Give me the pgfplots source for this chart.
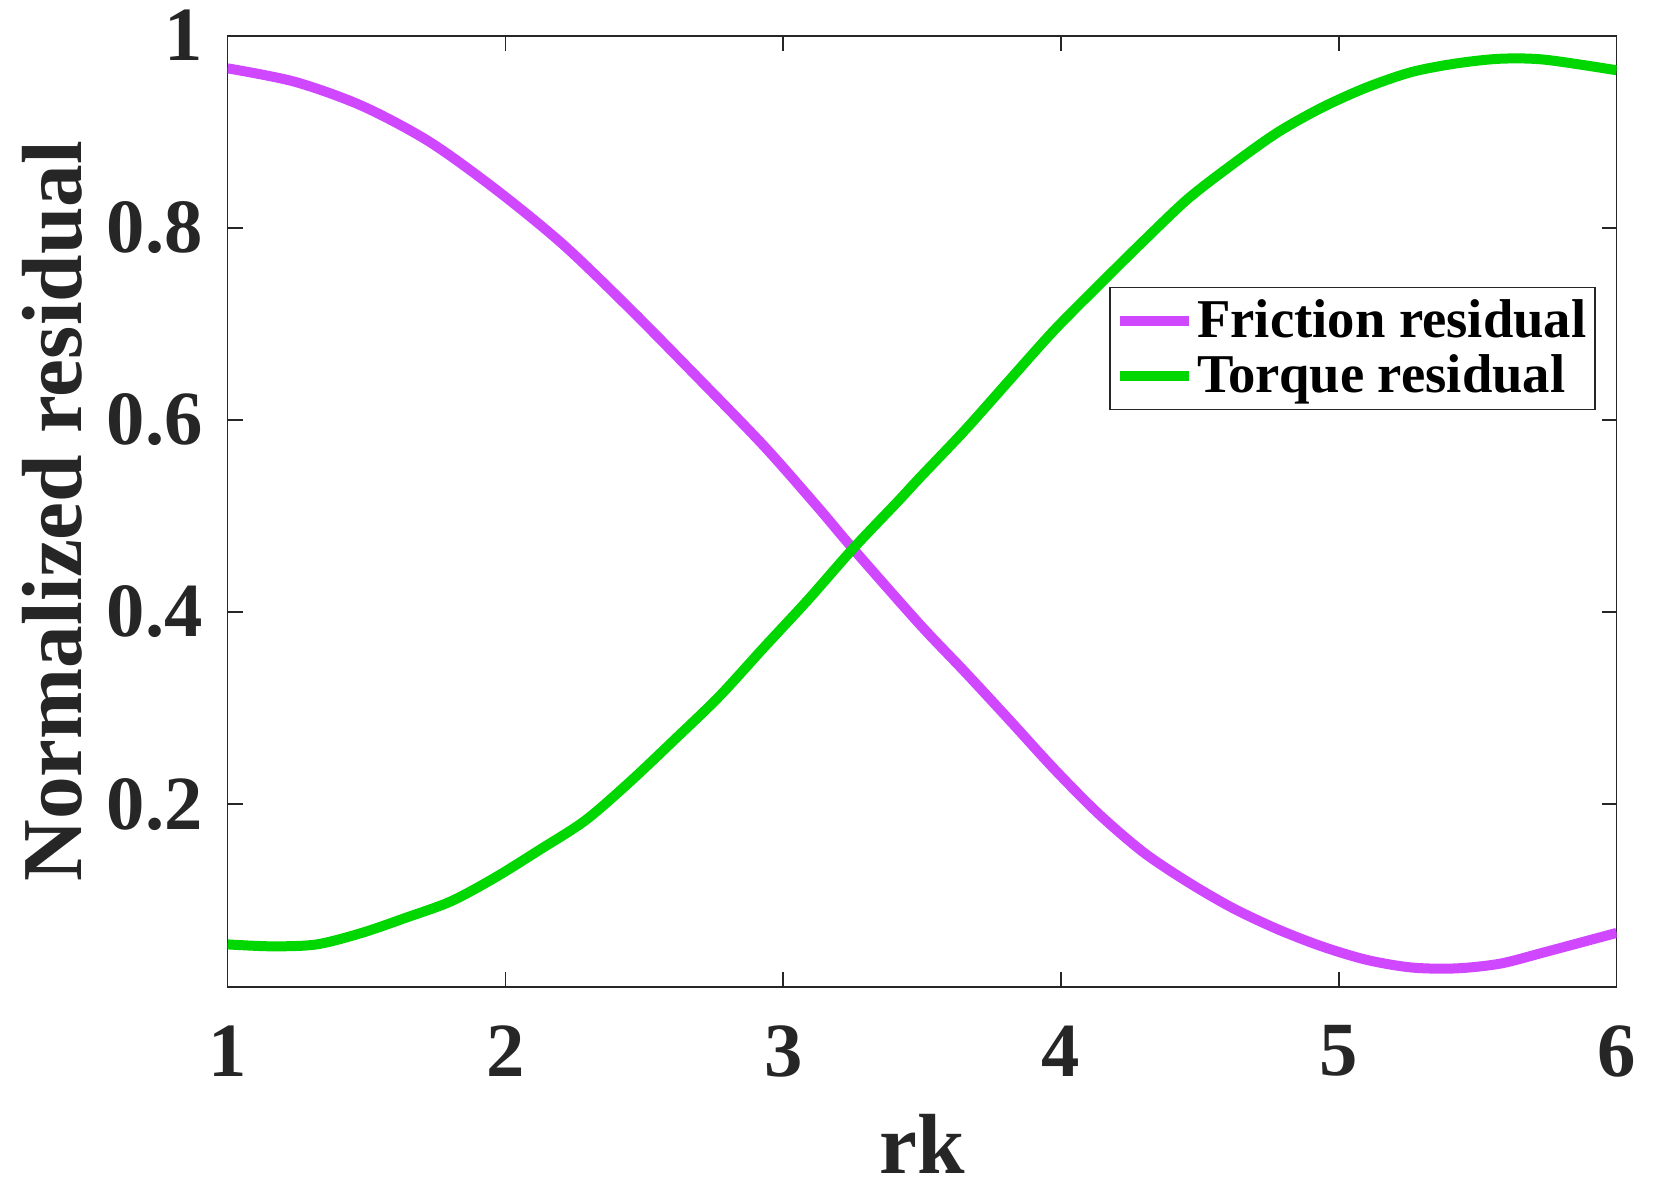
\documentclass[border=0pt]{standalone}
\usepackage{fontspec}
\setmainfont{Liberation Serif}
\usepackage{pgfplots}
\pgfplotsset{compat=1.18}
\definecolor{fric}{RGB}{207,71,255}
\definecolor{torq}{RGB}{0,214,0}
\definecolor{axc}{RGB}{38,38,38}
\begin{document}
\begin{tikzpicture}
\useasboundingbox (-68.3pt,-61pt) rectangle (427.6pt,296pt);
\begin{axis}[
  scale only axis, width=416.7pt, height=285.3pt,
  at={(0pt,0pt)}, anchor=south west,
  xmin=1, xmax=6, ymin=0.01, ymax=1,
  xtick={1,2,3,4,5,6}, ytick={0.2,0.4,0.6,0.8,1},
  tick align=inside, major tick length=4.5pt,
  axis line style={axc, line width=0.5pt},
  every tick/.style={axc, line width=0.5pt},
  /pgf/number format/assume math mode=true,
  tick label style={font=\fontsize{23}{23}\selectfont\bfseries, text=axc, inner sep=0pt},
  xticklabel style={yshift=-11.5pt},
  yticklabel style={xshift=-7.3pt},
  xlabel={rk}, ylabel={Normalized residual},
  label style={font=\fontsize{25.6}{26}\selectfont\bfseries, text=axc},
  xlabel style={at={(axis description cs:0.5,-0.196)}, anchor=base},
  ylabel style={at={(axis description cs:-0.105,0.5)}, anchor=base},
  legend style={at={(axis description cs:0.9848,0.736)}, anchor=north east, draw=axc, line width=0.5pt,
    font=\fontsize{16.4}{16.4}\selectfont\bfseries, inner xsep=1.5pt, inner ysep=2.5pt, row sep=1.8pt,
    nodes={inner sep=1pt}},
  legend cell align=left,
  legend image code/.code={\draw[#1, line width=3pt] (0pt,0pt) -- (20.6pt,0pt);},
]
\addplot[fric, line width=3pt, smooth, tension=0.5] table {
1.000 0.966
1.242 0.952
1.483 0.927
1.724 0.890
1.965 0.840
2.206 0.783
2.447 0.716
2.689 0.645
2.930 0.573
3.122 0.510
3.251 0.466
3.492 0.387
3.653 0.338
3.813 0.288
3.974 0.237
4.135 0.190
4.296 0.150
4.456 0.119
4.617 0.092
4.778 0.070
4.938 0.052
5.099 0.038
5.260 0.030
5.420 0.029
5.581 0.034
5.742 0.046
6.000 0.066
};
\addlegendentry{Friction residual}
\addplot[torq, line width=3pt, smooth, tension=0.5] table {
1.000 0.054
1.160 0.052
1.320 0.054
1.483 0.066
1.644 0.082
1.805 0.099
1.965 0.124
2.126 0.153
2.287 0.183
2.447 0.223
2.608 0.267
2.769 0.312
2.930 0.363
3.090 0.413
3.251 0.466
3.412 0.515
3.492 0.540
3.653 0.589
3.813 0.641
3.974 0.693
4.135 0.740
4.296 0.786
4.456 0.830
4.617 0.866
4.778 0.899
4.938 0.925
5.099 0.946
5.260 0.962
5.420 0.971
5.581 0.976
5.742 0.975
6.000 0.964
};
\addlegendentry{Torque residual}
\end{axis}
\end{tikzpicture}
\end{document}
